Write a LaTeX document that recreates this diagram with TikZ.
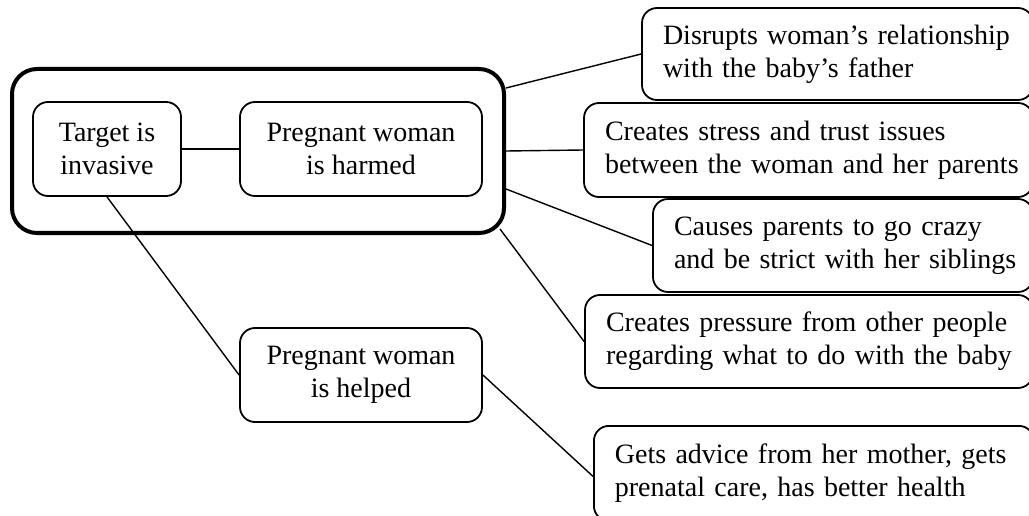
\documentclass[tikz,border=0pt]{standalone}
\usepackage{fontspec}
\setmainfont{Liberation Serif}
\begin{document}
\begin{tikzpicture}[x=1pt,y=-1pt,
  txt/.style={font=\fontsize{28}{33}\selectfont},
  cbox/.style={txt,draw,line width=1.8pt,rounded corners=15pt,align=center,inner sep=0pt},
  rbox/.style={txt,draw,line width=1.8pt,rounded corners=15pt,align=left,inner xsep=21pt,inner ysep=0pt,minimum height=93pt},
  link/.style={line width=1.4pt}]
\useasboundingbox (0,0) rectangle (1029,516);
\node[draw,line width=4pt,rounded corners=25pt,minimum width=492pt,minimum height=164pt] (big) at (258,151) {};
\node[cbox,minimum width=148pt,minimum height=94pt] (target) at (107,149) {Target is\\invasive};
\node[cbox,minimum width=242pt,minimum height=94pt] (harmed) at (361,149) {Pregnant woman\\is harmed};
\node[cbox,minimum width=242pt,minimum height=94pt] (helped) at (361,375) {Pregnant woman\\is helped};
\node[rbox,text width=349pt,minimum height=92pt] (b1) at (837.5,54) {\mbox{Disrupts woman’s relationship}\\\mbox{with the baby’s father}};
\node[rbox,text width=407pt,minimum height=94pt] (b2) at (808.5,150) {\mbox{Creates stress and trust issues}\\\mbox{between the woman and her parents}};
\node[rbox,text width=338pt] (b3) at (843,245.5) {\mbox{Causes parents to go crazy}\\\mbox{and be strict with her siblings}};
\node[rbox,text width=406pt] (b4) at (809,341.5) {\mbox{Creates pressure from other people}\\\mbox{regarding what to do with the baby}};
\node[rbox,text width=398pt,minimum height=95pt,anchor=north west] (b5) at (593,425) {\mbox{Gets advice from her mother, gets}\\\mbox{prenatal care, has better health}};
\draw[link] (target.east) -- (harmed.west);
\draw[link] ([yshift=63pt]big.east) -- (b1.west);
\draw[link] (big.east) -- (b2.west);
\draw[link] ([yshift=-38pt]big.east) -- (b3.west);
\draw[link] ([xshift=-6pt,yshift=6pt]big.south east) -- (b4.west);
\draw[link] (target.south) -- (helped.west);
\draw[link] (helped.east) -- ([yshift=-3pt]b5.west);
\end{tikzpicture}
\end{document}
